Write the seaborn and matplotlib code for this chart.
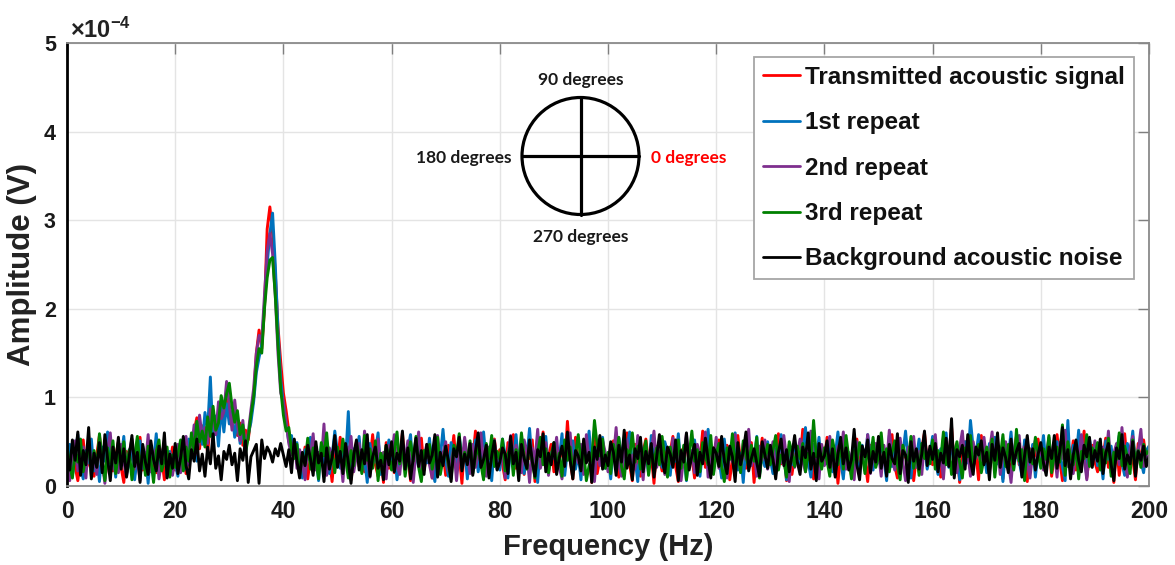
import numpy as np
import pandas as pd
import matplotlib
matplotlib.use("Agg")
import matplotlib.pyplot as plt
import seaborn as sns
from matplotlib.patches import Circle
from matplotlib.lines import Line2D
from matplotlib.ticker import FuncFormatter

# Amplitude spectra in micro-volts, 0.5 Hz bins from 0 to 200 Hz (20 bins per row = 10 Hz)
transmitted = [
    38, 14, 45, 22, 6, 31, 52, 19, 27, 41, 11, 35, 57, 24, 8, 29, 46, 17, 33, 50,
    21, 4, 39, 26, 48, 13, 30, 55, 18, 36, 9, 43, 25, 15, 47, 32, 7, 38, 23, 44,
    18, 39, 25, 46, 14, 33, 51, 62, 77, 42, 68, 55, 38, 72, 85, 58, 66, 91, 74, 98,
    82, 69, 88, 57, 71, 46, 63, 52, 78, 100, 150, 176, 155, 200, 290, 315, 285, 240, 180, 140,
    105, 85, 62, 45, 47, 29, 36, 21, 44, 8, 33, 52, 26, 14, 39, 23, 48, 31, 5, 41,
    27, 55, 19, 36, 44, 7, 30, 50, 22, 38, 16, 45, 29, 58, 24, 11, 37, 4, 49, 20,
    34, 15, 43, 28, 60, 21, 39, 6, 32, 47, 25, 54, 18, 36, 41, 9, 27, 50, 23, 38,
    12, 46, 30, 57, 20, 35, 3, 48, 16, 40, 29, 62, 22, 33, 11, 44, 37, 19, 53, 28,
    41, 24, 7, 49, 32, 58, 20, 36, 27, 13, 45, 31, 52, 5, 39, 25, 61, 22, 34, 47,
    16, 38, 29, 43, 21, 73, 30, 8, 55, 26, 40, 19, 35, 48, 4, 57, 14, 31, 44, 27,
    36, 20, 51, 29, 10, 42, 33, 60, 24, 6, 47, 30, 11, 39, 53, 26, 35, 3, 45, 32,
    17, 48, 28, 38, 56, 22, 5, 41, 30, 50, 25, 34, 9, 45, 27, 62, 21, 37, 15, 43,
    29, 52, 18, 35, 46, 7, 31, 14, 57, 26, 40, 20, 33, 49, 4, 38, 28, 54, 23, 36,
    44, 16, 30, 59, 25, 37, 6, 47, 13, 34, 42, 27, 64, 19, 31, 50, 8, 39, 17, 45,
    28, 55, 20, 33, 41, 3, 36, 48, 26, 30, 12, 43, 53, 22, 38, 29, 5, 46, 34, 25,
    51, 19, 40, 27, 35, 58, 23, 9, 44, 31, 37, 21, 49, 6, 33, 16, 42, 60, 28, 39,
    24, 47, 32, 10, 55, 29, 36, 67, 22, 41, 4, 34, 50, 27, 45, 20, 38, 7, 57, 25,
    43, 17, 35, 52, 28, 40, 8, 46, 31, 14, 38, 56, 24, 33, 47, 5, 42, 29, 36, 53,
    22, 39, 26, 48, 11, 34, 58, 30, 6, 44, 37, 25, 51, 18, 41, 28, 62, 9, 35, 46,
    27, 16, 43, 33, 54, 21, 38, 4, 47, 12, 36, 59, 24, 40, 31, 7, 48, 26, 52, 30,
    34,
]

repeat_1 = [
    29, 47, 12, 36, 58, 21, 8, 40, 26, 53, 17, 33, 5, 44, 28, 61, 19, 37, 10, 49,
    31, 56, 14, 25, 42, 7, 35, 51, 20, 38, 3, 46, 27, 59, 16, 32, 48, 11, 39, 24,
    26, 11, 44, 30, 19, 53, 35, 62, 28, 71, 47, 83, 64, 123, 52, 79, 45, 88, 61, 93,
    70, 84, 55, 76, 48, 66, 39, 58, 72, 95, 128, 145, 160, 205, 250, 285, 308, 250, 175, 120,
    92, 70, 50, 57, 34, 49, 22, 9, 41, 30, 55, 18, 37, 6, 45, 26, 50, 14, 33, 62,
    38, 20, 47, 29, 84, 11, 42, 35, 56, 17, 31, 4, 48, 25, 39, 60, 13, 36, 27, 52,
    19, 44, 7, 33, 50, 23, 41, 58, 15, 30, 46, 10, 37, 26, 54, 21, 5, 43, 32, 64,
    28, 11, 49, 36, 20, 57, 31, 45, 8, 39, 24, 52, 16, 34, 61, 27, 42, 6, 47, 30,
    18, 53, 35, 9, 44, 27, 58, 21, 40, 14, 32, 65, 25, 38, 4, 49, 29, 56, 17, 36,
    45, 22, 31, 59, 12, 40, 28, 51, 19, 36, 7, 47, 33, 62, 24, 15, 43, 30, 55, 20,
    37, 8, 46, 26, 54, 34, 17, 42, 61, 23, 31, 5, 48, 29, 39, 14, 57, 25, 44, 33,
    21, 50, 38, 12, 45, 28, 59, 19, 36, 6, 43, 30, 52, 24, 11, 40, 33, 64, 27, 15,
    46, 32, 9, 53, 23, 41, 29, 60, 18, 37, 4, 48, 26, 44, 31, 56, 13, 35, 22, 50,
    30, 14, 42, 27, 58, 36, 7, 45, 24, 51, 33, 19, 39, 66, 28, 10, 47, 31, 55, 21,
    40, 25, 52, 16, 34, 61, 29, 8, 43, 37, 20, 54, 31, 12, 46, 27, 58, 35, 18, 42,
    26, 49, 33, 6, 57, 22, 39, 44, 15, 36, 62, 28, 9, 41, 30, 53, 24, 47, 19, 34,
    56, 29, 13, 42, 35, 60, 21, 46, 31, 38, 7, 17, 50, 26, 74, 43, 34, 58, 23, 39,
    15, 48, 30, 55, 25, 37, 5, 44, 33, 61, 20, 41, 28, 12, 52, 36, 24, 47, 10, 38,
    32, 57, 19, 43, 27, 40, 50, 35, 22, 6, 74, 14, 46, 29, 63, 25, 38, 11, 53, 31,
    44, 23, 36, 8, 51, 30, 45, 18, 39, 57, 26, 12, 48, 34, 62, 21, 42, 28, 15, 40,
    45,
]

repeat_2 = [
    22, 6, 39, 51, 17, 30, 44, 9, 56, 25, 35, 13, 48, 28, 3, 41, 60, 20, 33, 15,
    47, 27, 11, 38, 53, 19, 32, 6, 45, 24, 58, 16, 36, 42, 8, 29, 50, 21, 37, 12,
    33, 47, 15, 38, 56, 24, 41, 69, 36, 80, 54, 66, 48, 87, 70, 58, 95, 76, 84, 118,
    92, 63, 97, 68, 51, 74, 42, 60, 86, 110, 150, 170, 165, 215, 265, 285, 262, 215, 150, 105,
    95, 72, 48, 35, 52, 20, 41, 27, 7, 46, 33, 59, 18, 38, 25, 70, 12, 43, 30, 51,
    24, 37, 5, 45, 29, 56, 16, 34, 48, 21, 62, 31, 10, 42, 27, 53, 19, 38, 8, 46,
    35, 58, 22, 13, 44, 30, 51, 26, 4, 39, 61, 18, 33, 47, 24, 9, 41, 57, 28, 36,
    50, 17, 29, 43, 6, 38, 25, 55, 32, 14, 47, 21, 36, 60, 27, 11, 44, 33, 52, 19,
    26, 41, 9, 35, 57, 23, 46, 30, 15, 52, 38, 4, 43, 28, 64, 20, 34, 49, 12, 37,
    31, 55, 21, 8, 42, 34, 60, 18, 39, 26, 47, 13, 58, 29, 36, 5, 45, 23, 51, 38,
    16, 43, 30, 66, 24, 11, 40, 52, 27, 35, 19, 57, 33, 7, 46, 28, 39, 62, 21, 32,
    48, 13, 37, 25, 54, 30, 42, 6, 33, 59, 22, 40, 15, 47, 35, 26, 61, 10, 38, 29,
    55, 20, 44, 32, 9, 41, 27, 58, 36, 17, 48, 30, 64, 23, 38, 11, 45, 29, 52, 19,
    34, 50, 14, 39, 26, 57, 31, 5, 44, 21, 36, 53, 28, 16, 42, 62, 25, 37, 8, 47,
    23, 40, 56, 29, 12, 45, 33, 61, 19, 38, 26, 7, 50, 35, 43, 22, 58, 14, 31, 48,
    37, 11, 46, 25, 63, 32, 18, 41, 54, 27, 6, 44, 30, 56, 21, 39, 13, 49, 35, 26,
    42, 58, 20, 34, 8, 47, 29, 53, 36, 15, 43, 62, 24, 38, 11, 50, 31, 45, 18, 55,
    28, 39, 61, 22, 46, 13, 35, 50, 27, 4, 41, 32, 57, 19, 44, 26, 9, 38, 52, 30,
    47, 18, 33, 55, 25, 40, 10, 49, 31, 63, 22, 36, 14, 45, 29, 58, 34, 7, 42, 26,
    51, 33, 20, 44, 28, 62, 15, 37, 48, 24, 66, 31, 10, 43, 56, 27, 39, 64, 22, 35,
    28,
]

repeat_3 = [
    45, 24, 9, 38, 27, 53, 16, 34, 48, 11, 40, 22, 59, 31, 6, 43, 26, 51, 14, 36,
    28, 50, 19, 41, 7, 33, 56, 23, 37, 12, 45, 30, 4, 39, 52, 17, 29, 44, 10, 35,
    21, 36, 52, 17, 44, 28, 60, 39, 73, 50, 62, 44, 78, 56, 90, 63, 71, 102, 88, 104,
    116, 90, 72, 85, 58, 69, 37, 55, 80, 100, 135, 155, 150, 200, 235, 255, 258, 215, 160, 110,
    80, 62, 66, 40, 31, 47, 12, 36, 25, 54, 19, 43, 30, 8, 49, 34, 60, 22, 38, 15,
    44, 27, 53, 31, 9, 40, 23, 48, 35, 14, 57, 29, 42, 20, 51, 6, 37, 26, 46, 33,
    18, 39, 61, 25, 43, 11, 34, 50, 28, 56, 21, 5, 40, 32, 47, 19, 36, 55, 13, 30,
    42, 24, 8, 46, 35, 59, 20, 38, 27, 51, 14, 33, 44, 25, 7, 48, 31, 57, 22, 39,
    30, 53, 17, 36, 45, 12, 41, 26, 60, 33, 19, 47, 28, 9, 38, 55, 24, 42, 15, 34,
    49, 21, 37, 11, 52, 29, 44, 18, 35, 58, 26, 40, 6, 23, 31, 74, 46, 34, 53, 20,
    38, 14, 47, 30, 55, 22, 8, 41, 33, 60, 27, 45, 19, 36, 51, 12, 39, 28, 43, 24,
    56, 31, 10, 44, 25, 37, 52, 20, 46, 7, 35, 62, 28, 41, 16, 49, 33, 24, 57, 13,
    36, 48, 22, 5, 43, 30, 59, 26, 39, 15, 51, 34, 21, 46, 28, 55, 9, 40, 32, 47,
    24, 41, 57, 18, 35, 29, 10, 50, 38, 22, 45, 31, 48, 16, 37, 26, 74, 33, 33, 19,
    43, 28, 11, 52, 36, 24, 47, 19, 57, 32, 8, 40, 26, 49, 35, 14, 44, 30, 55, 21,
    33, 60, 27, 42, 16, 38, 51, 23, 7, 46, 34, 29, 56, 20, 41, 12, 48, 31, 37, 25,
    52, 19, 40, 30, 61, 24, 45, 13, 36, 50, 27, 9, 43, 33, 57, 21, 38, 47, 15, 31,
    44, 26, 53, 10, 39, 32, 58, 22, 47, 35, 18, 64, 28, 41, 6, 49, 34, 25, 55, 37,
    20, 42, 30, 57, 15, 36, 44, 27, 69, 12, 50, 33, 24, 46, 8, 39, 31, 58, 22, 43,
    35, 49, 18, 41, 26, 54, 11, 38, 30, 60, 23, 45, 33, 14, 52, 28, 40, 21, 47, 36,
    40,
]

background = [
    35, 18, 52, 29, 61, 12, 40, 24, 66, 8, 37, 21, 49, 15, 58, 31, 6, 44, 26, 55,
    19, 42, 10, 33, 57, 22, 38, 4, 47, 27, 13, 51, 30, 17, 45, 25, 60, 9, 36, 20,
    48, 14, 32, 56, 23, 8, 41, 28, 53, 17, 36, 11, 44, 25, 59, 20, 34, 7, 39, 30,
    46, 24, 37, 6, 42, 29, 51, 4, 33, 40, 47, 3, 52, 31, 44, 38, 27, 42, 34, 48,
    35, 22, 41, 15, 53, 28, 9, 38, 23, 46, 31, 12, 50, 26, 37, 5, 43, 19, 32, 57,
    21, 39, 14, 48, 27, 3, 35, 52, 18, 41, 25, 58, 11, 33, 44, 20, 29, 7, 46, 24,
    50, 16, 37, 28, 62, 19, 43, 8, 31, 54, 22, 40, 13, 47, 26, 35, 58, 10, 38, 23,
    45, 29, 5, 42, 33, 55, 17, 36, 24, 48, 12, 39, 60, 21, 30, 46, 9, 34, 51, 18,
    27, 43, 36, 14, 56, 25, 38, 6, 47, 31, 20, 52, 28, 11, 41, 33, 59, 16, 37, 24,
    49, 13, 32, 45, 22, 61, 29, 8, 40, 34, 17, 53, 26, 38, 4, 44, 30, 57, 19, 35,
    23, 50, 38, 12, 46, 27, 63, 20, 35, 7, 42, 31, 55, 16, 39, 25, 48, 10, 33, 58,
    29, 15, 44, 36, 21, 52, 6, 40, 27, 60, 18, 34, 47, 12, 38, 25, 54, 30, 9, 43,
    37, 22, 56, 28, 14, 45, 33, 5, 49, 24, 39, 61, 17, 31, 42, 26, 11, 50, 35, 20,
    46, 30, 8, 38, 53, 23, 41, 16, 35, 57, 27, 13, 44, 32, 60, 19, 37, 6, 48, 28,
    34, 51, 21, 42, 10, 36, 55, 25, 43, 18, 30, 64, 24, 7, 45, 33, 52, 15, 39, 27,
    56, 20, 38, 11, 47, 31, 25, 59, 14, 40, 35, 4, 50, 28, 42, 19, 36, 62, 23, 45,
    30, 48, 16, 37, 26, 54, 22, 76, 9, 41, 33, 46, 19, 58, 28, 13, 44, 35, 51, 24,
    38, 7, 47, 29, 60, 21, 43, 32, 15, 53, 25, 39, 48, 10, 34, 57, 27, 42, 18, 36,
    49, 26, 12, 44, 31, 57, 20, 38, 66, 23, 41, 8, 35, 52, 29, 16, 46, 33, 55, 21,
    40, 28, 53, 14, 37, 48, 24, 6, 43, 31, 58, 19, 35, 25, 50, 11, 39, 29, 45, 22,
    33,
]

series_names = [
    "Transmitted acoustic signal",
    "1st repeat",
    "2nd repeat",
    "3rd repeat",
    "Background acoustic noise",
]
series_colors = ["#FF0000", "#0072BD", "#7E2F8E", "#008000", "#000000"]
x_ticks = [0, 20, 40, 60, 80, 100, 120, 140, 160, 180, 200]
y_ticks = [0, 1, 2, 3, 4, 5]  # in units of 1e-4 V
angle_labels = ["90 degrees", "180 degrees", "0 degrees", "270 degrees"]

spectra = [transmitted, repeat_1, repeat_2, repeat_3, background]
frames = []
for name, vals in zip(series_names, spectra):
    amp = np.asarray(vals, dtype=float) * 1e-6
    freq = np.linspace(0, 200, len(amp))
    frames.append(pd.DataFrame({"freq": freq, "amp": amp, "series": name}))
df = pd.concat(frames, ignore_index=True)

sns.set_theme(style="white")
plt.rcParams["font.family"] = ["Liberation Sans", "DejaVu Sans"]
plt.rcParams["font.weight"] = "bold"
plt.rcParams["mathtext.fontset"] = "custom"
plt.rcParams["mathtext.rm"] = "Liberation Sans"
plt.rcParams["mathtext.bf"] = "Liberation Sans:bold"

W, H = 1175, 565
fig = plt.figure(figsize=(W / 100, H / 100), dpi=100)
fig.patch.set_facecolor("white")
ax = fig.add_axes([67 / W, 1 - 486 / H, 1082 / W, 443 / H])

palette = dict(zip(series_names, series_colors))
sns.lineplot(data=df, x="freq", y="amp", hue="series", hue_order=series_names,
             palette=palette, estimator=None, sort=False, linewidth=2.1,
             legend=False, ax=ax)

ax.set_xlim(0, 200)
ax.set_ylim(0, 5e-4)
ax.set_xticks(x_ticks)
ax.set_yticks([t * 1e-4 for t in y_ticks])
ax.yaxis.set_major_formatter(FuncFormatter(lambda v, _: f"{v * 1e4:g}"))
ax.grid(True, color="#e4e4e4", linewidth=1.0)
ax.set_axisbelow(True)

ax.tick_params(direction="in", length=8, width=1.0, color="#7f7f7f",
               top=True, right=True, labelcolor="#1a1a1a")
ax.tick_params(axis="x", pad=10, labelsize=16.5)
ax.tick_params(axis="y", pad=8, labelsize=15.5)
for side in ["top", "right", "bottom"]:
    ax.spines[side].set_color("#8a8a8a")
    ax.spines[side].set_linewidth(1.3)
ax.spines["left"].set_color("black")
ax.spines["left"].set_linewidth(2.0)

ax.set_xlabel("Frequency (Hz)", fontsize=21, fontweight="bold", color="#222222", labelpad=7)
ax.set_ylabel("Amplitude (V)", fontsize=22.5, fontweight="bold", color="#222222", labelpad=5)
ax.text(3 / 1082, 1.011, r"$\times\mathbf{10^{-4}}$", transform=ax.transAxes,
        ha="left", va="baseline", fontsize=17, color="#222222")

handles = [Line2D([], [], color=c, linewidth=2.0) for c in series_colors]
leg = ax.legend(handles, series_names, loc="upper right", bbox_to_anchor=(0.986, 0.968),
                borderaxespad=0, fontsize=17.5, frameon=True, fancybox=False,
                framealpha=1, edgecolor="#a6a6a6", handlelength=1.55,
                handletextpad=0.2, labelspacing=0.92, borderpad=0.36)
leg.get_frame().set_linewidth(1.3)
for t in leg.get_texts():
    t.set_fontweight("bold")
    t.set_color("#111111")

# orientation diagram drawn on a pixel-space overlay
ov = fig.add_axes([0, 0, 1, 1])
ov.set_xlim(0, W)
ov.set_ylim(H, 0)
ov.axis("off")
cx, cy, r = 580.5, 156, 58.5
ov.add_patch(Circle((cx, cy), r, fill=False, edgecolor="black", linewidth=2.3))
ov.plot([cx - r, cx + r], [cy, cy], color="black", linewidth=2.3)
ov.plot([cx, cx], [cy - r, cy + r], color="black", linewidth=2.3)
lab_kw = dict(fontsize=12.5, fontweight="bold", family=["Lato", "DejaVu Sans"])
ov.text(cx, 80, angle_labels[0], ha="center", va="center", color="#1a1a1a", **lab_kw)
ov.text(512, 158, angle_labels[1], ha="right", va="center", color="#1a1a1a", **lab_kw)
ov.text(651, 158, angle_labels[2], ha="left", va="center", color="#FF0000", **lab_kw)
ov.text(cx, 237, angle_labels[3], ha="center", va="center", color="#1a1a1a", **lab_kw)

fig.savefig("out.png", dpi=100, facecolor="white")
